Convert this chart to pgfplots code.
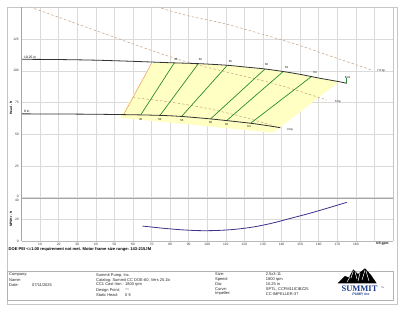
\documentclass[border=0pt]{standalone}
\usepackage{fontspec}
\setmainfont{Liberation Sans}
\newfontfamily\logofont{Liberation Serif}
\usepackage{pgfplots}
\pgfplotsset{compat=1.18}
\definecolor{hpc}{RGB}{200,165,135}
\definecolor{effg}{RGB}{40,140,50}
\definecolor{yel}{RGB}{255,255,196}
\definecolor{npsh}{RGB}{60,50,140}
\definecolor{orng}{RGB}{240,150,110}
\definecolor{gridc}{RGB}{218,218,218}
\definecolor{logob}{RGB}{30,60,140}
\newcommand{\tf}{\fontsize{3.3}{4}\selectfont}
\newcommand{\ff}{\fontsize{4}{5}\selectfont}
\begin{document}
\begin{tikzpicture}
\useasboundingbox (0,0) rectangle (400pt,309pt);
\fill[white] (0,0) rectangle (400pt,309pt);
% ---------------- Head axis ----------------
\begin{axis}[at={(21.5pt,110.7pt)}, anchor=south west, scale only axis,
  width=371.5pt, height=191.3pt, xmin=0, xmax=200, ymin=0, ymax=150,
  xtick={0,10,...,190}, xticklabels={},
  ytick={0,25,...,150}, yticklabels={,25,50,75,100,125,},
  grid=major, grid style={gridc, line width=0.5pt},
  axis line style={draw=none}, major tick length=0pt,
  tick label style={font=\tf, text=black!80},
  yticklabel style={inner sep=1pt, xshift=-1.5pt},
  clip=false]
% operating region
\addplot[fill=yel, draw=none] coordinates {(53,63.2) (70.1,106.1) (80,106.3) (95,105.6) (110,104.4) (120,103.0) (130,101.6) (140,99.6) (150,97.2) (160,94.3) (171,91.3) (135.4,51.4)} -- cycle;
% hp lines
\addplot[hpc, dash pattern=on 2.5pt off 2pt, line width=0.55pt, smooth] coordinates {(73,150) (90,143) (108.6,137.2) (130,128.5) (149,120.2) (165,112.2) (188.5,100.6)};
\addplot[hpc, dash pattern=on 2.5pt off 2pt, line width=0.55pt, smooth] coordinates {(4.6,150) (40,131.5) (64,119) (80,111) (95,104.5) (117.6,96.5) (139.2,88.6) (164.3,77.1)};
\addplot[hpc, dash pattern=on 2.5pt off 2pt, line width=0.55pt, smooth] coordinates {(60,79) (80,75.5) (100,70.5) (120,63.5) (140,55)};
% min flow line
\addplot[orng, line width=0.5pt] coordinates {(55,65.6) (70.1,106.1)};
% efficiency lines
\addplot[effg, line width=0.7pt] coordinates {(64.2,65.4) (82.3,106.3)};
\addplot[effg, line width=0.7pt] coordinates {(74.6,65.1) (95.2,105.6)};
\addplot[effg, line width=0.7pt] coordinates {(86.2,64.2) (110.8,104.3)};
\addplot[effg, line width=0.7pt] coordinates {(101.9,62.4) (131.1,101.4)};
\addplot[effg, line width=0.7pt] coordinates {(110.5,61.0) (140.9,99.4)};
\addplot[effg, line width=0.7pt] coordinates {(123.4,58.9) (156.2,95.6)};
\addplot[effg, line width=0.7pt] coordinates {(175.1,90.2) (175.1,94.4)};
% head curves
\addplot[black!80, line width=0.8pt, smooth] coordinates {(0,109.0) (20,108.8) (40,108.3) (60,107.4) (80,106.3) (95,105.6) (110,104.4) (120,103.0) (130,101.6) (140,99.6) (150,97.2) (160,94.3) (170,91.7) (175.1,90.2)};
\addplot[black!80, line width=0.8pt, smooth] coordinates {(0,66.2) (20,66.1) (40,65.9) (60,65.5) (75,65.0) (86,64.2) (100,62.5) (110,61.0) (123,58.9) (131,57.3) (139.2,55.4)};
\end{axis}
% ---------------- NPSH axis ----------------
\begin{axis}[at={(21.5pt,68pt)}, anchor=south west, scale only axis,
  width=371.5pt, height=43.3pt, xmin=0, xmax=200, ymin=0, ymax=40,
  xtick={0,10,...,190},
  xticklabels={,10,20,30,40,50,60,70,80,90,100,110,120,130,140,150,160,170,180,},
  ytick={0,20,40}, yticklabels={0,20,},
  grid=major, grid style={gridc, line width=0.5pt},
  axis line style={draw=none}, major tick length=0pt,
  tick label style={font=\tf, text=black!80},
  yticklabel style={inner sep=1pt, xshift=-1.5pt},
  xticklabel style={inner sep=1pt, yshift=-0.5pt},
  clip=false]
\addplot[npsh, line width=0.8pt, smooth] coordinates {(65.2,13.8) (75,12.0) (85,10.5) (95,9.6) (105,9.7) (115,10.8) (125,13.0) (135,16.5) (145,21.0) (155,25.5) (165,30.5) (175.1,35.7)};
\end{axis}
% ---------------- frames and texts (pixel coordinates) ----------------
\begin{scope}[shift={(0,309pt)}, x=1pt, y=-1pt]
\draw[gray!45, line width=0.4pt] (7,6.7) rectangle (397,304);
\draw[gray!70, line width=1.3pt] (21.5,7) -- (21.5,241);
\draw[gray!70, line width=0.7pt] (21.5,198.3) -- (393,198.3);
\draw[gray!55, line width=0.5pt] (21.5,241) -- (393,241);
\draw[gray!45, line width=0.4pt] (393,6.7) -- (393,241);
\node[font=\tf, text=black!80, anchor=east, inner sep=0] at (19,196.4) {0};
\node[font=\tf, text=black!80, anchor=east, inner sep=0] at (19,200.3) {40};
\node[font=\tf\bfseries, rotate=90] at (11,108) {Head - ft};
\node[font=\tf\bfseries, rotate=90] at (11,219) {NPSHr - ft};
\node[font=\tf\bfseries, anchor=west, inner sep=0] at (376,243.8) {US gpm};
\node[font=\tf, anchor=west, inner sep=0] at (24,57) {10.25 in};
\node[font=\tf, anchor=west, inner sep=0] at (24,111.3) {8 in};
% efficiency labels
\foreach \t/\x/\y in {45/176/59.3, 50/200.5/59.8, 55/230.5/61.7, 60/266.7/65, 62/286.7/67.7, 64/315/72.3, 64.8/347.5/77.2,
  45/140.7/119.5, 50/160/120, 55/182/120.7, 60/210.7/122.7, 62/226.7/124.7, 64/249/126.7}
  \node[font=\fontsize{2.8}{3}\selectfont, inner sep=0] at (\x,\y) {\t};
\node[font=\fontsize{2.8}{3}\selectfont, anchor=west, inner sep=0] at (377,70.3) {7.5 hp};
\node[font=\fontsize{2.8}{3}\selectfont, anchor=west, inner sep=0] at (335,101.7) {5 hp};
\node[font=\fontsize{2.8}{3}\selectfont, anchor=west, inner sep=0] at (287,130) {3 hp};
% note
\node[font=\fontsize{4.1}{5}\selectfont\bfseries, anchor=west, inner sep=0] at (8.5,249.3) {DOE PEI <=1.00 requirement not met. Motor frame size range: 143-215JM};
% footer box
\draw[gray!60, line width=0.4pt] (7,271.5) rectangle (393,300);
\begin{scope}[every node/.style={font=\ff, anchor=west, inner sep=0, text=black!85}]
\node at (9,275) {Company:};
\node at (9,280) {Name:};
\node at (9,285) {Date:};
\node at (32,285) {07/11/2025};
\node at (96,275) {Summit Pump, Inc.};
\node at (96,280) {Catalog: Summit CC DOE-60, Vers 25.1b};
\node at (96,285) {CC1 Cast Iron - 1800 rpm};
\node at (96,290) {Design Point:};
\node at (125,290) {---};
\node at (96,295) {Static Head:};
\node at (125,295) {0 ft};
\node at (215,274.5) {Size:};
\node at (215,279.3) {Speed:};
\node at (215,284.1) {Dia:};
\node at (215,288.9) {Curve:};
\node at (215,293.7) {Impeller:};
\node at (265.7,274.5) {2.5x3-11};
\node at (265.7,279.3) {1800 rpm};
\node at (265.7,284.1) {10.25 in};
\node at (265.7,288.9) {SPTL, CCFM11ICIBZ25};
\node at (265.7,293.7) {CC-IMPELLER-37};
\end{scope}
% logo
\fill[black] (337.5,283.3) -- (345,276) -- (349,277.5) -- (353.3,269.3) -- (358,274) -- (361,271.5) -- (365,268.3) -- (371,275) -- (376.7,283.3) -- cycle;
\draw[white, line width=0.5pt] (350,277) -- (347,282) (353.3,271) -- (351,278) (355,272) -- (357,279) (365,270) -- (362,280) (366,271) -- (369,281) (360,273) -- (358,281);
\node[font=\logofont\bfseries\fontsize{8.5}{9}\selectfont, text=logob, inner sep=0] at (359.5,288.3) {SUMMIT};
\node[font=\fontsize{2}{2}\selectfont, text=logob, anchor=west, inner sep=0] at (381,287.5) {TM};
\node[font=\fontsize{3.6}{4}\selectfont\bfseries\itshape, text=logob, inner sep=0] at (361,295) {PUMP, Inc};
\end{scope}
\end{tikzpicture}
\end{document}
